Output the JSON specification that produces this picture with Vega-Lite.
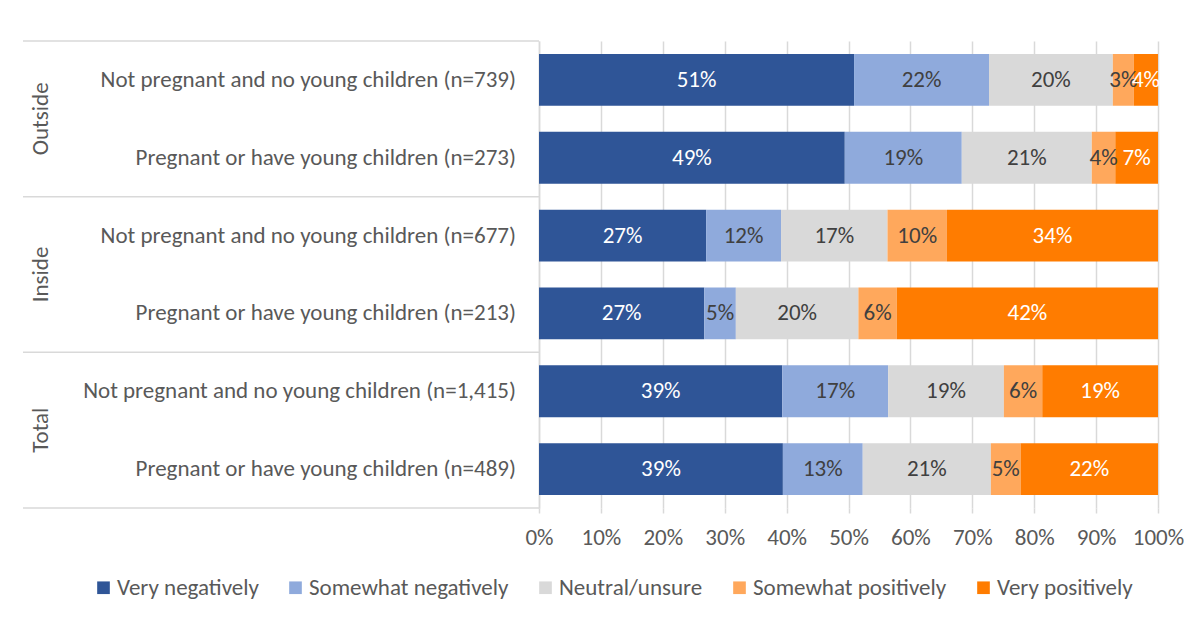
{
  "$schema": "https://vega.github.io/schema/vega-lite/v6.json",
  "padding": {"left": 22, "top": 40, "right": 0, "bottom": 0},
  "spacing": 0,
  "bounds": "flush",
  "config": {
    "view": {"stroke": null},
    "font": "Carlito, Liberation Sans, sans-serif",
    "text": {"font": "Carlito, Liberation Sans, sans-serif"}
  },
  "datasets": {
    "rows": [
      {"g": "Outside", "cat": "Not pregnant and no young children (n=739)", "resp": "Very negatively", "k": 1, "pct": 0.509},
      {"g": "Outside", "cat": "Not pregnant and no young children (n=739)", "resp": "Somewhat negatively", "k": 2, "pct": 0.218},
      {"g": "Outside", "cat": "Not pregnant and no young children (n=739)", "resp": "Neutral/unsure", "k": 3, "pct": 0.200},
      {"g": "Outside", "cat": "Not pregnant and no young children (n=739)", "resp": "Somewhat positively", "k": 4, "pct": 0.034},
      {"g": "Outside", "cat": "Not pregnant and no young children (n=739)", "resp": "Very positively", "k": 5, "pct": 0.039},
      {"g": "Outside", "cat": "Pregnant or have young children (n=273)", "resp": "Very negatively", "k": 1, "pct": 0.494},
      {"g": "Outside", "cat": "Pregnant or have young children (n=273)", "resp": "Somewhat negatively", "k": 2, "pct": 0.189},
      {"g": "Outside", "cat": "Pregnant or have young children (n=273)", "resp": "Neutral/unsure", "k": 3, "pct": 0.210},
      {"g": "Outside", "cat": "Pregnant or have young children (n=273)", "resp": "Somewhat positively", "k": 4, "pct": 0.038},
      {"g": "Outside", "cat": "Pregnant or have young children (n=273)", "resp": "Very positively", "k": 5, "pct": 0.069},
      {"g": "Inside", "cat": "Not pregnant and no young children (n=677)", "resp": "Very negatively", "k": 1, "pct": 0.270},
      {"g": "Inside", "cat": "Not pregnant and no young children (n=677)", "resp": "Somewhat negatively", "k": 2, "pct": 0.121},
      {"g": "Inside", "cat": "Not pregnant and no young children (n=677)", "resp": "Neutral/unsure", "k": 3, "pct": 0.172},
      {"g": "Inside", "cat": "Not pregnant and no young children (n=677)", "resp": "Somewhat positively", "k": 4, "pct": 0.096},
      {"g": "Inside", "cat": "Not pregnant and no young children (n=677)", "resp": "Very positively", "k": 5, "pct": 0.341},
      {"g": "Inside", "cat": "Pregnant or have young children (n=213)", "resp": "Very negatively", "k": 1, "pct": 0.267},
      {"g": "Inside", "cat": "Pregnant or have young children (n=213)", "resp": "Somewhat negatively", "k": 2, "pct": 0.051},
      {"g": "Inside", "cat": "Pregnant or have young children (n=213)", "resp": "Neutral/unsure", "k": 3, "pct": 0.198},
      {"g": "Inside", "cat": "Pregnant or have young children (n=213)", "resp": "Somewhat positively", "k": 4, "pct": 0.062},
      {"g": "Inside", "cat": "Pregnant or have young children (n=213)", "resp": "Very positively", "k": 5, "pct": 0.422},
      {"g": "Total", "cat": "Not pregnant and no young children (n=1,415)", "resp": "Very negatively", "k": 1, "pct": 0.393},
      {"g": "Total", "cat": "Not pregnant and no young children (n=1,415)", "resp": "Somewhat negatively", "k": 2, "pct": 0.171},
      {"g": "Total", "cat": "Not pregnant and no young children (n=1,415)", "resp": "Neutral/unsure", "k": 3, "pct": 0.187},
      {"g": "Total", "cat": "Not pregnant and no young children (n=1,415)", "resp": "Somewhat positively", "k": 4, "pct": 0.062},
      {"g": "Total", "cat": "Not pregnant and no young children (n=1,415)", "resp": "Very positively", "k": 5, "pct": 0.187},
      {"g": "Total", "cat": "Pregnant or have young children (n=489)", "resp": "Very negatively", "k": 1, "pct": 0.394},
      {"g": "Total", "cat": "Pregnant or have young children (n=489)", "resp": "Somewhat negatively", "k": 2, "pct": 0.129},
      {"g": "Total", "cat": "Pregnant or have young children (n=489)", "resp": "Neutral/unsure", "k": 3, "pct": 0.207},
      {"g": "Total", "cat": "Pregnant or have young children (n=489)", "resp": "Somewhat positively", "k": 4, "pct": 0.048},
      {"g": "Total", "cat": "Pregnant or have young children (n=489)", "resp": "Very positively", "k": 5, "pct": 0.222}
    ]
  },
  "data": {"name": "rows"},
  "hconcat": [
    {
      "width": 516,
      "height": 467,
      "transform": [{"filter": "datum.k == 1"}],
      "encoding": {
        "y": {
          "field": "cat", "type": "nominal", "sort": null, "axis": null,
          "scale": {
            "domain": [
              "Not pregnant and no young children (n=739)",
              "Pregnant or have young children (n=273)",
              "Not pregnant and no young children (n=677)",
              "Pregnant or have young children (n=213)",
              "Not pregnant and no young children (n=1,415)",
              "Pregnant or have young children (n=489)"
            ],
            "paddingInner": 0, "paddingOuter": 0
          }
        }
      },
      "layer": [
        {
          "transform": [{"filter": "indexof(datum.cat, 'Not') == 0"}],
          "mark": {"type": "rule", "color": "#D9D9D9", "strokeWidth": 1.5},
          "encoding": {"y": {"field": "cat", "type": "nominal", "sort": null, "bandPosition": 0}}
        },
        {
          "transform": [{"filter": "datum.g == 'Total' && indexof(datum.cat, 'Pregnant') == 0"}],
          "mark": {"type": "rule", "color": "#D9D9D9", "strokeWidth": 1.5},
          "encoding": {"y": {"field": "cat", "type": "nominal", "sort": null, "bandPosition": 1}}
        },
        {
          "mark": {"type": "text", "align": "right", "baseline": "middle", "fontSize": 23, "color": "#595959", "dx": -23},
          "encoding": {
            "x": {"value": "width"},
            "text": {"field": "cat"}
          }
        },
        {
          "transform": [{"filter": "indexof(datum.cat, 'Not') == 0"}],
          "mark": {"type": "text", "align": "center", "baseline": "middle", "angle": 270, "fontSize": 23, "color": "#595959", "dy": 18},
          "encoding": {
            "x": {"value": 0},
            "y": {"field": "cat", "type": "nominal", "sort": null, "bandPosition": 1},
            "text": {"field": "g"}
          }
        }
      ]
    },
    {
      "width": 619,
      "height": 467,
      "encoding": {
        "y": {
          "field": "cat", "type": "nominal", "sort": null,
          "scale": {
            "domain": [
              "Not pregnant and no young children (n=739)",
              "Pregnant or have young children (n=273)",
              "Not pregnant and no young children (n=677)",
              "Pregnant or have young children (n=213)",
              "Not pregnant and no young children (n=1,415)",
              "Pregnant or have young children (n=489)"
            ],
            "paddingInner": 0, "paddingOuter": 0
          },
          "axis": {"labels": false, "ticks": false, "title": null, "domain": true, "domainColor": "#D9D9D9", "domainWidth": 1.5, "minExtent": 0}
        },
        "x": {
          "field": "pct", "type": "quantitative", "stack": "normalize",
          "scale": {"domain": [0, 1]},
          "axis": {
            "format": ".0%", "values": [0, 0.1, 0.2, 0.3, 0.4, 0.5, 0.6, 0.7, 0.8, 0.9, 1],
            "labelOverlap": false, "labelFlush": false,
            "grid": true, "gridColor": "#D9D9D9", "gridWidth": 1.5,
            "domain": false, "tickColor": "#D9D9D9", "tickWidth": 1.5, "tickSize": 5,
            "labelFontSize": 23, "labelColor": "#595959", "labelPadding": 13, "title": null
          }
        },
        "order": {"field": "k", "type": "quantitative"}
      },
      "layer": [
        {
          "mark": {"type": "bar", "height": {"band": 0.665}},
          "encoding": {
            "color": {
              "field": "resp", "type": "nominal",
              "scale": {
                "domain": ["Very negatively", "Somewhat negatively", "Neutral/unsure", "Somewhat positively", "Very positively"],
                "range": ["#2F5597", "#8FAADC", "#D9D9D9", "#FFA85C", "#FF7C00"]
              },
              "legend": {
                "orient": "none", "legendX": 69, "legendY": 535, "direction": "horizontal", "title": null,
                "symbolType": "square", "symbolSize": 160, "symbolStrokeWidth": 0,
                "labelFontSize": 23, "labelColor": "#595959", "labelOffset": 2, "labelLimit": 400,
                "columnPadding": 25
              }
            }
          }
        },
        {
          "mark": {"type": "text", "fontSize": 23, "baseline": "middle", "align": "center"},
          "encoding": {
            "x": {"field": "pct", "type": "quantitative", "stack": "normalize", "bandPosition": 0.5},
            "detail": {"field": "resp"},
            "text": {"field": "pct", "format": ".0%"},
            "color": {
              "condition": {"test": "datum.k == 1 || datum.k == 5", "value": "#FFFFFF"},
              "value": "#404040"
            }
          }
        }
      ]
    }
  ]
}
